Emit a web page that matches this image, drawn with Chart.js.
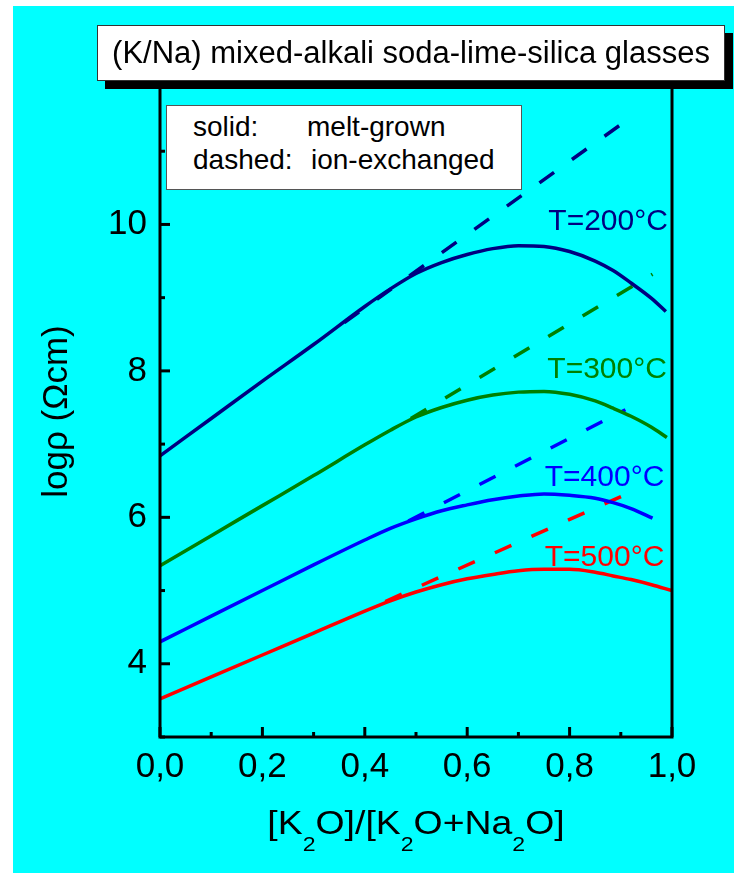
<!DOCTYPE html>
<html><head><meta charset="utf-8">
<script src="https://cdn.jsdelivr.net/npm/chart.js@4.4.1/dist/chart.umd.min.js"></script>
<style>
html,body{margin:0;padding:0;background:#fff;}
#wrap{position:relative;width:734px;height:873px;overflow:hidden;}
canvas{position:absolute;left:0;top:0;}
.box{position:absolute;background:#fff;font-family:"Liberation Sans",Arial,sans-serif;color:#000;box-sizing:border-box;}
#title{left:97px;top:25px;width:628px;height:56px;border:1px solid #333;box-shadow:8px 8px 0 #000;display:flex;align-items:center;justify-content:center;font-size:31px;white-space:nowrap;}
#legend{left:166px;top:105px;width:356px;height:85px;border:1px solid #555;font-size:28px;}
#legend span{position:absolute;line-height:28px;white-space:nowrap;}
</style></head><body>
<div id="wrap"><canvas id="c" width="734" height="873"></canvas>
<div class="box" id="title">(K/Na) mixed-alkali soda-lime-silica glasses</div>
<div class="box" id="legend"><span style="left:26px;top:7px">solid:</span><span style="left:140px;top:7px">melt-grown</span><span style="left:26px;top:40px">dashed:</span><span style="left:144px;top:40px">ion-exchanged</span></div>
</div>
<script>
// ---- data ----
const tempLabels = ['T=200°C', 'T=300°C', 'T=400°C', 'T=500°C'];
const seriesColors = ['#000080', '#008000', '#0000FF', '#FF0000'];

// melt-grown (solid)
const meltX200 = [0, 0.1, 0.2, 0.3, 0.4, 0.45, 0.5, 0.55, 0.6, 0.65, 0.7, 0.75, 0.8, 0.85, 0.885, 0.92, 0.96, 0.988];
const meltY200 = [6.84, 7.35, 7.86, 8.36, 8.88, 9.12, 9.33, 9.48, 9.59, 9.67, 9.71, 9.70, 9.63, 9.50, 9.37, 9.20, 8.99, 8.81];
const meltX300 = [0, 0.1, 0.2, 0.3, 0.4, 0.45, 0.5, 0.55, 0.6, 0.65, 0.7, 0.75, 0.8, 0.85, 0.885, 0.92, 0.96, 0.99];
const meltY300 = [5.34, 5.75, 6.16, 6.57, 6.99, 7.19, 7.37, 7.50, 7.60, 7.67, 7.71, 7.72, 7.68, 7.59, 7.49, 7.38, 7.23, 7.09];
const meltX400 = [0, 0.1, 0.2, 0.3, 0.4, 0.45, 0.5, 0.55, 0.6, 0.65, 0.7, 0.75, 0.8, 0.85, 0.885, 0.92, 0.962];
const meltY400 = [4.30, 4.65, 5.00, 5.35, 5.69, 5.85, 5.98, 6.09, 6.17, 6.24, 6.29, 6.32, 6.30, 6.26, 6.20, 6.12, 5.99];
const meltX500 = [0, 0.1, 0.2, 0.3, 0.4, 0.45, 0.5, 0.55, 0.6, 0.65, 0.7, 0.75, 0.8, 0.85, 0.885, 0.92, 0.96, 1.0];
const meltY500 = [3.52, 3.82, 4.12, 4.42, 4.72, 4.86, 4.98, 5.08, 5.16, 5.22, 5.27, 5.29, 5.29, 5.25, 5.20, 5.15, 5.08, 5.00];

// ion-exchanged (dashed)
const ionX200 = [0.36, 0.929];
const ionY200 = [8.66, 11.51];
const ionX300 = [0.49, 0.962];
const ionY300 = [7.35, 9.32];
const ionX400 = [0.485, 0.909];
const ionY400 = [5.95, 7.47];
const ionX500 = [0.44, 0.909];
const ionY500 = [4.85, 6.31];

// temperature label anchors (data coords, right-aligned, baseline)
const labelX = [0.992, 0.99, 0.985, 0.985];
const labelY = [9.93, 7.90, 6.43, 5.34];

// axes
const xMin = 0, xMax = 1, xStep = 0.1;
const yMin = 3, yMax = 12, yStep = 1;
const yLabelValues = [4, 6, 8, 10];
const yTitle = 'logρ (Ωcm)';
const xTitleParts = [['[K', false], ['2', true], ['O]/[K', false], ['2', true], ['O+Na', false], ['2', true], ['O]', false]];

// ---- chart ----
const FONT = '"Liberation Sans", Arial, sans-serif';
function pts(xs, ys) { return xs.map((x, i) => ({ x: x, y: ys[i] })); }

const melt = [[meltX200, meltY200], [meltX300, meltY300], [meltX400, meltY400], [meltX500, meltY500]];
const ion = [[ionX200, ionY200], [ionX300, ionY300], [ionX400, ionY400], [ionX500, ionY500]];
const datasets = [];
melt.forEach((s, i) => datasets.push({
  label: tempLabels[i] + ' melt-grown', data: pts(s[0], s[1]), borderColor: seriesColors[i],
  borderWidth: 3.5, pointRadius: 0, cubicInterpolationMode: 'monotone', fill: false
}));
ion.forEach((s, i) => datasets.push({
  label: tempLabels[i] + ' ion-exchanged', data: pts(s[0], s[1]), borderColor: seriesColors[i],
  borderWidth: 3.5, borderDash: [18, 22], pointRadius: 0, tension: 0, fill: false
}));

const bgPlugin = {
  id: 'bg',
  beforeDraw(chart) {
    const c = chart.ctx; c.save();
    c.fillStyle = '#fff'; c.fillRect(0, 0, chart.width, chart.height);
    c.fillStyle = '#00FFFF'; c.fillRect(13, 6, chart.width - 13, chart.height - 6);
    c.restore();
  }
};

const isMajorX = v => Math.round(v * 10) % 2 === 0;
const isMajorY = v => Math.round(v) % 2 === 0;

const framePlugin = {
  id: 'frame',
  afterDraw(chart) {
    const { ctx, chartArea: a, scales } = chart;
    const x = scales.x, y = scales.y;
    ctx.save();
    ctx.strokeStyle = '#000'; ctx.lineWidth = 3; ctx.lineCap = 'square';
    ctx.strokeRect(a.left, a.top, a.right - a.left, a.bottom - a.top);
    ctx.lineCap = 'butt';
    x.ticks.forEach(t => {
      const px = x.getPixelForValue(t.value); const L = isMajorX(t.value) ? 10 : 5;
      ctx.beginPath(); ctx.moveTo(px, a.bottom); ctx.lineTo(px, a.bottom - L); ctx.stroke();
    });
    y.ticks.forEach(t => {
      const py = y.getPixelForValue(t.value); const L = isMajorY(t.value) ? 10 : 5;
      ctx.beginPath(); ctx.moveTo(a.left, py); ctx.lineTo(a.left + L, py); ctx.stroke();
    });
    // temperature labels
    ctx.font = '30px ' + FONT; ctx.textAlign = 'right'; ctx.textBaseline = 'alphabetic';
    tempLabels.forEach((t, i) => {
      ctx.fillStyle = seriesColors[i];
      ctx.fillText(t, x.getPixelForValue(labelX[i]), y.getPixelForValue(labelY[i]));
    });
    // x title with subscripts (slightly widened like the reference lettering)
    ctx.fillStyle = '#000'; ctx.textAlign = 'left';
    const mainF = '34px ' + FONT, subF = '21px ' + FONT, sx = 1.1;
    let total = 0;
    xTitleParts.forEach(p => { ctx.font = p[1] ? subF : mainF; total += ctx.measureText(p[0]).width; });
    const base = a.bottom + 97;
    ctx.save();
    ctx.translate((a.left + a.right) / 2, base);
    ctx.scale(sx, 1);
    let cx = -total / 2;
    xTitleParts.forEach(p => {
      ctx.font = p[1] ? subF : mainF;
      ctx.fillText(p[0], cx, p[1] ? 17 : 0);
      cx += ctx.measureText(p[0]).width;
    });
    ctx.restore();
    // y title
    ctx.save();
    ctx.translate(a.left - 93, (a.top + a.bottom) / 2 + 4);
    ctx.rotate(-Math.PI / 2);
    ctx.font = '35px ' + FONT; ctx.textAlign = 'center';
    ctx.fillText(yTitle, 0, 0);
    ctx.restore();
    ctx.restore();
  }
};

new Chart(document.getElementById('c'), {
  type: 'line',
  data: { datasets: datasets },
  options: {
    responsive: false, animation: false, devicePixelRatio: 1,
    layout: { padding: { left: 0, right: 62, top: 78, bottom: 0 } },
    plugins: { legend: { display: false }, tooltip: { enabled: false }, title: { display: false } },
    scales: {
      x: {
        type: 'linear', min: xMin, max: xMax,
        afterFit(s) { s.height = 136; },
        grid: { display: false, drawTicks: false }, border: { display: false },
        ticks: {
          stepSize: xStep, autoSkip: false, maxRotation: 0, padding: 9, color: '#000',
          font: { family: FONT, size: 35 },
          callback: v => isMajorX(v) ? (Math.round(v * 10) / 10).toFixed(1).replace('.', ',') : ''
        }
      },
      y: {
        type: 'linear', min: yMin, max: yMax,
        afterFit(s) { s.width = 160; },
        grid: { display: false, drawTicks: false }, border: { display: false },
        ticks: {
          stepSize: yStep, autoSkip: false, padding: 13, color: '#000',
          font: { family: FONT, size: 35 },
          callback: v => yLabelValues.includes(Math.round(v)) ? String(Math.round(v)) : ''
        }
      }
    }
  },
  plugins: [bgPlugin, framePlugin]
});
</script>
</body></html>
